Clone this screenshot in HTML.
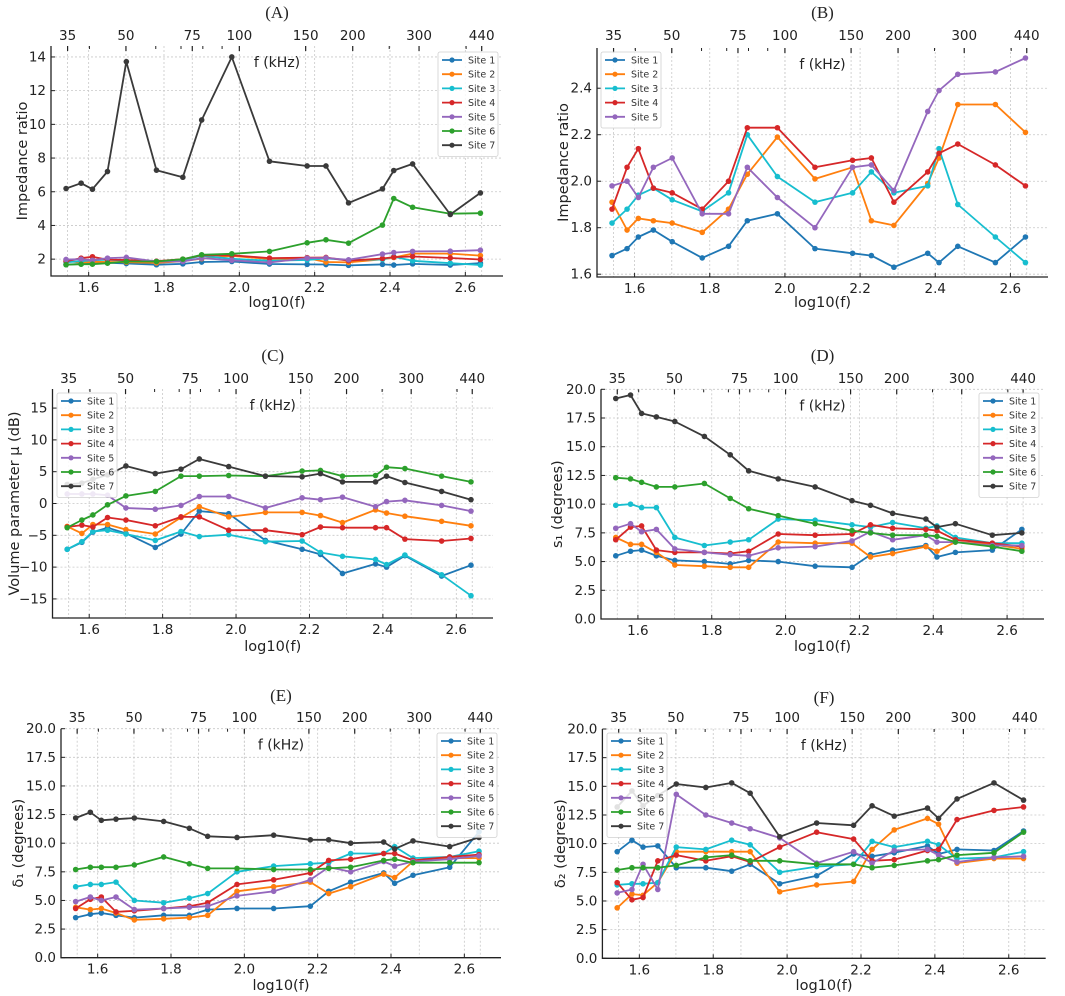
<!DOCTYPE html>
<html><head><meta charset="utf-8">
<style>
html,body{margin:0;padding:0;background:#fff;}
svg{display:block;font-family:"DejaVu Sans","Liberation Sans",sans-serif;}
</style></head>
<body>
<svg id="fig" width="1065" height="996" viewBox="0 0 1065 996" xmlns="http://www.w3.org/2000/svg"></svg>
<script>
const xVals = [1.54,1.58,1.61,1.65,1.70,1.78,1.85,1.90,1.98,2.08,2.18,2.23,2.29,2.38,2.41,2.46,2.56,2.64];
const siteNames = ["Site 1","Site 2","Site 3","Site 4","Site 5","Site 6","Site 7"];
const topTickLabels = ["35","50","75","100","150","200","300","440"];
const topTickFreqs = [35,50,75,100,150,200,300,440];
const topMinorFreqs = [40,60,70,80,90,250,400];
const xTicks = [1.6,1.8,2.0,2.2,2.4,2.6];

// Panel B (also sites 1-5 in panel A)
const b_s1 = [1.68,1.71,1.76,1.79,1.74,1.67,1.72,1.83,1.86,1.71,1.69,1.68,1.63,1.69,1.65,1.72,1.65,1.76];
const b_s2 = [1.91,1.79,1.84,1.83,1.82,1.78,1.88,2.03,2.19,2.01,2.06,1.83,1.81,1.99,2.10,2.33,2.33,2.21];
const b_s3 = [1.82,1.88,1.94,1.97,1.92,1.87,1.95,2.20,2.02,1.91,1.95,2.04,1.95,1.98,2.14,1.90,1.76,1.65];
const b_s4 = [1.88,2.06,2.14,1.97,1.95,1.88,2.00,2.23,2.23,2.06,2.09,2.10,1.91,2.04,2.12,2.16,2.07,1.98];
const b_s5 = [1.98,2.00,1.93,2.06,2.10,1.86,1.86,2.06,1.93,1.80,2.06,2.07,1.96,2.30,2.39,2.46,2.47,2.53];
// Panel A extra sites
const a_s6 = [1.67,1.70,1.70,1.76,1.86,1.86,2.00,2.26,2.32,2.46,2.97,3.15,2.95,4.02,5.60,5.08,4.70,4.73];
const a_s7 = [6.19,6.51,6.15,7.20,13.72,7.28,6.86,10.26,14.0,7.81,7.53,7.53,5.34,6.17,7.26,7.65,4.65,5.93];
// Panel C
const c_s1 = [-7.2,-6.1,-4.5,-3.8,-4.7,-6.9,-4.8,-1.2,-1.6,-5.8,-7.2,-8.0,-11.0,-9.5,-10.0,-8.2,-11.4,-9.7];
const c_s2 = [-3.6,-4.7,-3.3,-3.3,-4.1,-4.8,-2.2,-0.5,-2.1,-1.4,-1.4,-1.9,-3.0,-1.0,-1.5,-2.0,-2.8,-3.5];
const c_s3 = [-7.2,-6.0,-4.4,-4.2,-4.8,-5.8,-4.4,-5.2,-4.9,-6.0,-5.9,-7.7,-8.3,-8.8,-9.6,-8.1,-11.2,-14.5];
const c_s4 = [-3.7,-3.4,-3.7,-2.2,-2.6,-3.5,-2.1,-2.1,-4.2,-4.2,-4.9,-3.7,-3.8,-3.8,-3.8,-5.6,-5.9,-5.5];
const c_s5 = [1.5,1.5,1.5,1.3,-0.7,-0.9,-0.3,1.1,1.1,-0.7,0.9,0.6,1.0,-0.5,0.3,0.5,-0.3,-1.2];
const c_s6 = [-3.8,-2.6,-1.8,-0.2,1.2,1.9,4.3,4.3,4.4,4.3,5.1,5.2,4.3,4.4,5.7,5.5,4.3,3.4];
const c_s7 = [3.0,3.2,3.8,4.5,5.9,4.7,5.4,7.0,5.8,4.3,4.2,4.7,3.4,3.4,4.3,3.3,1.9,0.6];
// Panel D
const d_s1 = [5.5,5.9,6.0,5.5,5.1,5.0,4.8,5.1,5.0,4.6,4.5,5.6,6.0,6.4,5.4,5.8,6.0,7.8];
const d_s2 = [7.1,6.5,6.5,5.8,4.7,4.6,4.5,4.5,6.7,6.6,6.6,5.4,5.7,6.3,5.9,6.7,6.5,6.1];
const d_s3 = [9.9,10.0,9.7,9.7,7.1,6.4,6.7,6.9,8.7,8.6,8.2,8.0,8.4,7.9,8.1,7.1,6.6,6.6];
const d_s4 = [6.9,8.0,8.1,6.0,5.8,5.8,5.7,5.9,7.4,7.3,7.4,8.2,7.9,7.8,7.7,6.9,6.6,6.3];
const d_s5 = [7.9,8.3,7.6,7.8,6.1,5.8,5.6,5.5,6.2,6.3,6.8,7.6,6.9,7.3,6.7,6.7,6.4,6.4];
const d_s6 = [12.3,12.2,11.9,11.5,11.5,11.8,10.5,9.6,9.0,8.3,7.7,7.5,7.3,7.3,7.2,6.7,6.3,5.9];
const d_s7 = [19.2,19.5,17.9,17.6,17.2,15.9,14.3,12.9,12.2,11.5,10.3,9.9,9.2,8.7,8.0,8.3,7.3,7.5];
// Panel E
const e_s1 = [3.5,3.8,3.9,3.7,3.5,3.7,3.7,4.2,4.3,4.3,4.5,5.8,6.6,7.4,6.5,7.2,7.9,11.0];
const e_s2 = [4.4,4.2,4.3,3.9,3.3,3.4,3.5,3.7,5.8,6.2,6.6,5.6,6.2,7.3,7.0,8.4,8.7,8.7];
const e_s3 = [6.2,6.4,6.4,6.6,5.0,4.8,5.2,5.6,7.5,8.0,8.2,8.3,9.1,9.1,9.7,8.7,8.8,9.3];
const e_s4 = [4.3,5.1,5.3,4.0,4.1,4.3,4.5,4.8,6.4,6.8,7.4,8.5,8.6,9.1,9.1,8.5,8.8,9.0];
const e_s5 = [4.9,5.3,5.0,5.3,4.2,4.3,4.4,4.5,5.4,5.8,6.8,7.9,7.5,8.4,8.0,8.4,8.6,8.9];
const e_s6 = [7.7,7.9,7.9,7.9,8.1,8.8,8.2,7.8,7.8,7.7,7.7,7.8,7.9,8.5,8.6,8.3,8.3,8.3];
const e_s7 = [12.2,12.7,12.0,12.1,12.2,11.9,11.3,10.6,10.5,10.7,10.3,10.3,10.0,10.1,9.5,10.2,9.7,10.5];
// Panel F
const f_s1 = [9.3,10.3,9.7,9.8,7.9,7.9,7.6,8.2,6.5,7.2,9.1,8.9,9.2,9.8,9.1,9.5,9.4,11.1];
const f_s2 = [4.4,5.6,5.5,6.6,9.3,9.3,9.3,9.3,5.8,6.4,6.7,9.5,11.2,12.2,11.7,8.3,8.7,8.7];
const f_s3 = [6.4,6.5,6.5,6.6,9.7,9.5,10.3,9.9,7.5,8.0,8.2,10.2,9.7,10.2,9.9,8.7,8.8,9.3];
const f_s4 = [6.6,5.1,5.3,8.5,9.0,8.5,8.9,8.4,9.7,11.0,10.4,8.5,8.6,9.4,9.5,12.1,12.9,13.2];
const f_s5 = [5.7,6.0,8.2,6.0,14.3,12.5,11.8,11.3,10.5,8.3,9.3,8.3,9.4,9.5,9.0,8.4,8.8,8.9];
const f_s6 = [7.7,7.9,7.9,7.9,8.1,8.8,9.0,8.5,8.5,8.2,8.2,7.9,8.1,8.5,8.6,9.0,9.2,11.0];
const f_s7 = [13.2,14.6,13.3,14.2,15.2,14.9,15.3,14.4,10.6,11.8,11.6,13.3,12.4,13.1,12.2,13.9,15.3,13.8];

const colors = ["#1f77b4","#ff7f0e","#17becf","#d62728","#9467bd","#2ca02c","#3a3a3a"];
const NS = "http://www.w3.org/2000/svg";
const svg = document.getElementById('fig');

function el(tag, attrs, parent){
  const e = document.createElementNS(NS, tag);
  for (const k in attrs) e.setAttribute(k, attrs[k]);
  (parent||svg).appendChild(e);
  return e;
}

const panels = [
  {id:"a", title:"(A)", L:51, R:503, T:46, B:276, y0:1.0, y1:14.65, yt:[2,4,6,8,10,12,14], fmt:v=>String(v),
   ylabel:"Impedance ratio", ylx:22, titleY:18, topY:40, xlabY:307,
   series:[b_s1,b_s2,b_s3,b_s4,b_s5,a_s6,a_s7], leg:{x:438,y:52}},
  {id:"b", title:"(B)", L:597, R:1048, T:48, B:277, y0:1.588, y1:2.573, yt:[1.6,1.8,2.0,2.2,2.4], fmt:v=>v.toFixed(1),
   ylabel:"Impedance ratio", ylx:563, titleY:18, topY:40, xlabY:307,
   series:[b_s1,b_s2,b_s3,b_s4,b_s5], leg:{x:601,y:52}},
  {id:"c", title:"(C)", L:52.5, R:493, T:389, B:618, y0:-18, y1:18, yt:[-15,-10,-5,0,5,10,15], fmt:v=>v<0?"\u2212"+(-v):String(v),
   ylabel:"Volume parameter  \u03bc  (dB)", ylx:14, titleY:361, topY:383, xlabY:651,
   series:[c_s1,c_s2,c_s3,c_s4,c_s5,c_s6,c_s7], leg:{x:57,y:393}},
  {id:"d", title:"(D)", L:601, R:1044, T:389.3, B:619, y0:0, y1:20, yt:[0,2.5,5,7.5,10,12.5,15,17.5,20], fmt:v=>v.toFixed(1),
   ylabel:"s\u2081 (degrees)", ylx:557, titleY:361, topY:383, xlabY:651,
   series:[d_s1,d_s2,d_s3,d_s4,d_s5,d_s6,d_s7], leg:{x:979,y:393}},
  {id:"e", title:"(E)", L:61, R:501, T:728.7, B:957.7, y0:0, y1:20, yt:[0,2.5,5,7.5,10,12.5,15,17.5,20], fmt:v=>v.toFixed(1),
   ylabel:"\u03b4\u2081 (degrees)", ylx:18, titleY:701, topY:722, xlabY:990,
   series:[e_s1,e_s2,e_s3,e_s4,e_s5,e_s6,e_s7], leg:{x:437,y:733}},
  {id:"f", title:"(F)", L:602.4, R:1045.7, T:729, B:958.3, y0:0, y1:20, yt:[0,2.5,5,7.5,10,12.5,15,17.5,20], fmt:v=>v.toFixed(1),
   ylabel:"\u03b4\u2082 (degrees)", ylx:560, titleY:703, topY:722, xlabY:990,
   series:[f_s1,f_s2,f_s3,f_s4,f_s5,f_s6,f_s7], leg:{x:607,y:733}}
];

panels.forEach(p => {
  const g = el('g', {});
  
  
  const sx = v => p.L + (v - 1.5) / 1.2 * (p.R - p.L);
  const sy = v => p.B - (v - p.y0) / (p.y1 - p.y0) * (p.B - p.T);
  const gridStyle = {stroke:"#c8c8c8", "stroke-width":0.8, "stroke-dasharray":"2,2"};

  xTicks.forEach(t => { const l = el('line', Object.assign({x1:sx(t),x2:sx(t),y1:p.T,y2:p.B}, gridStyle), g);
      });
  topTickFreqs.forEach(f => { const x = sx(Math.log10(f)); const l = el('line', Object.assign({x1:x,x2:x,y1:p.T,y2:p.B}, gridStyle), g);
      });
  p.yt.forEach(t => { const l = el('line', Object.assign({x1:p.L,x2:p.R,y1:sy(t),y2:sy(t)}, gridStyle), g);
      });

  const sp = el('path', {d:`M${p.L},${p.T} L${p.L},${p.B} L${p.R},${p.B}`, fill:"none", stroke:"#222", "stroke-width":1.3}, g);
   

  xTicks.forEach(t => {
    el('line', {x1:sx(t),x2:sx(t),y1:p.B,y2:p.B-4,stroke:"#222","stroke-width":1}, g);
    const tx = el('text', {x:sx(t), y:p.B+16, "text-anchor":"middle", "font-size":13.5, fill:"#222"}, g);
    tx.textContent = t.toFixed(1);
     
  });
  p.yt.forEach(t => {
    el('line', {x1:p.L,x2:p.L+4,y1:sy(t),y2:sy(t),stroke:"#222","stroke-width":1}, g);
    const tx = el('text', {x:p.L-5, y:sy(t)+4.5, "text-anchor":"end", "font-size":13.5, fill:"#222"}, g);
    tx.textContent = p.fmt(t);
     
  });
  topTickFreqs.forEach((f,i) => {
    const x = sx(Math.log10(f));
    el('line', {x1:x,x2:x,y1:p.T,y2:p.T+5,stroke:"#222","stroke-width":1.2}, g);
    const tx = el('text', {x:x, y:p.topY, "text-anchor":"middle", "font-size":13.5, fill:"#222"}, g);
    tx.textContent = topTickLabels[i];
     
  });
  topMinorFreqs.forEach(f => {
    const x = sx(Math.log10(f));
    el('line', {x1:x,x2:x,y1:p.T,y2:p.T+3,stroke:"#222","stroke-width":1}, g);
  });
  const fk = el('text', {x:(p.L+p.R)/2, y:p.T+21, "text-anchor":"middle", "font-size":14, fill:"#222"}, g);
  fk.textContent = "f (kHz)";
   
  const ttl = el('text', {x:(p.L+p.R)/2, y:p.titleY, "text-anchor":"middle", "font-size":17, fill:"#222", "font-family":"Liberation Serif, serif"}, g);
  ttl.textContent = p.title;
   
  const xl = el('text', {x:(p.L+p.R)/2, y:p.xlabY, "text-anchor":"middle", "font-size":14.5, fill:"#222"}, g);
  xl.textContent = "log10(f)";
   
  const cy = (p.T+p.B)/2;
  const yl = el('text', {x:p.ylx, y:cy, "text-anchor":"middle", "font-size":14.5, fill:"#222", transform:`rotate(-90 ${p.ylx} ${cy})`, dy:"5"}, g);
  yl.textContent = p.ylabel;
   

  p.series.forEach((vals, si) => {
    const sg = el('g', {}, g);
    
    
    const d = vals.map((v,i) => (i?'L':'M') + sx(xVals[i]).toFixed(1) + ',' + sy(v).toFixed(1)).join(' ');
    const ln = el('path', {d:d, fill:"none", stroke:colors[si], "stroke-width":1.8, "stroke-linejoin":"round"}, sg);
    
    
    vals.forEach((v,i) => {
      const c = el('circle', {cx:sx(xVals[i]), cy:sy(v), r:2.8, fill:colors[si]}, sg);
      
      
    });
  });

  const n = p.series.length;
  const lg = el('g', {}, g);
  
  
  el('rect', {x:p.leg.x, y:p.leg.y, width:60, height:n*14.2+5, rx:2, fill:"#fff", "fill-opacity":0.85, stroke:"#d0d0d0", "stroke-width":0.8}, lg);
  for (let i=0;i<n;i++){
    const yy = p.leg.y + 8 + i*14.2;
    const e = el('g', {}, lg);
    
    
    el('line', {x1:p.leg.x+4, x2:p.leg.x+24, y1:yy, y2:yy, stroke:colors[i], "stroke-width":1.8}, e);
    el('circle', {cx:p.leg.x+14, cy:yy, r:2.6, fill:colors[i]}, e);
    const t = el('text', {x:p.leg.x+30, y:yy+3.5, "font-size":9.5, fill:"#333"}, e);
    t.textContent = siteNames[i];
  }
});
</script>
</body></html>
